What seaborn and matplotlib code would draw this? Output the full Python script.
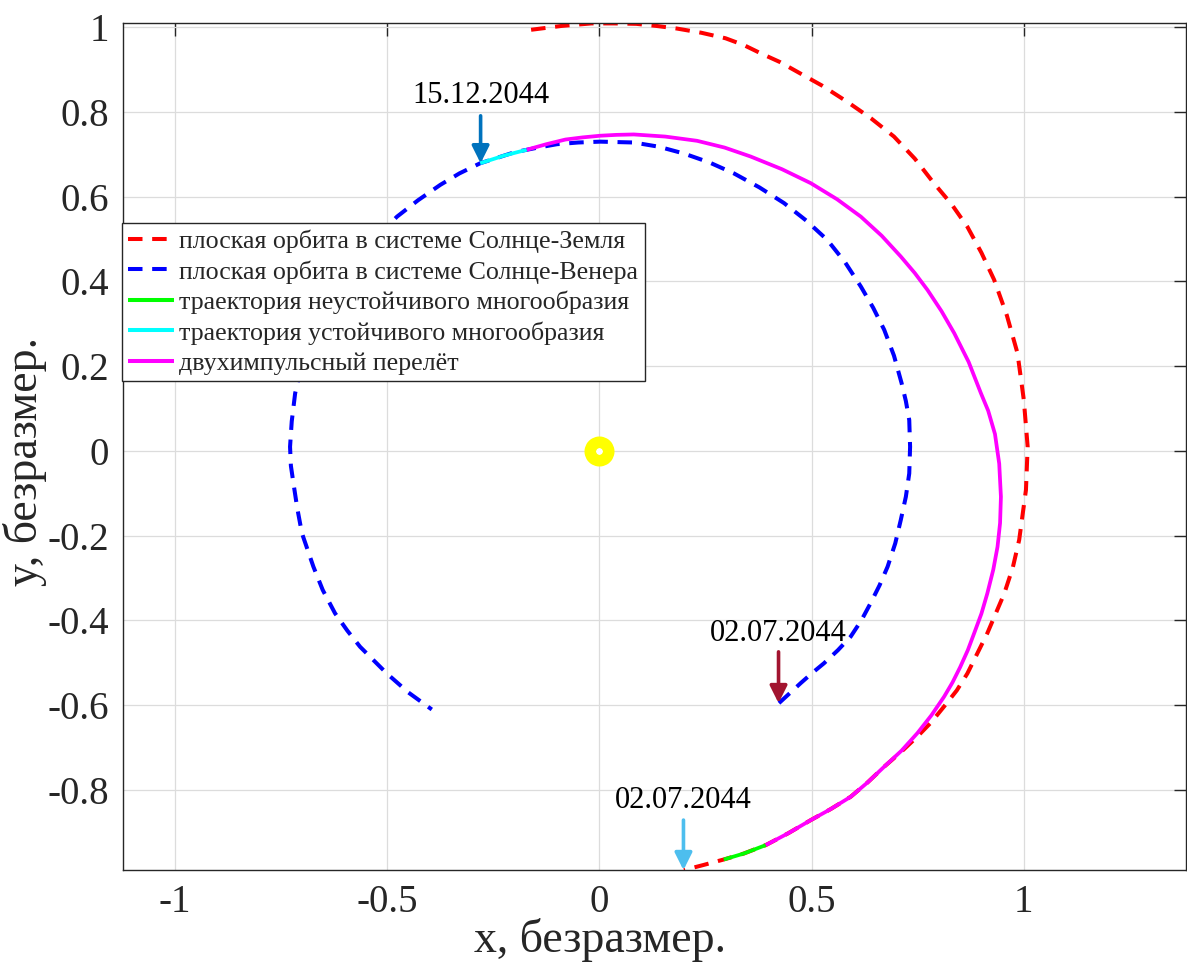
import numpy as np
import pandas as pd
import matplotlib
matplotlib.use("Agg")
import matplotlib.pyplot as plt
import seaborn as sns

# ---------------- data ----------------
earth_x = [-0.161, -0.090, -0.019, 0.035, 0.087, 0.135, 0.182, 0.240, 0.297, 0.340,
           0.381, 0.425, 0.466, 0.525, 0.584, 0.640, 0.694, 0.743, 0.788, 0.830,
           0.867, 0.900, 0.930, 0.960, 0.985, 1.000, 1.009, 1.005, 0.989, 0.974,
           0.954, 0.914, 0.867, 0.842, 0.812, 0.782, 0.749, 0.711, 0.671, 0.632,
           0.592, 0.545, 0.498, 0.445, 0.392, 0.340, 0.293, 0.245, 0.199]
earth_y = [0.994, 1.003, 1.009, 1.009, 1.008, 1.003, 0.997, 0.987, 0.974, 0.958,
           0.938, 0.918, 0.895, 0.862, 0.824, 0.785, 0.742, 0.690, 0.632, 0.582,
           0.529, 0.468, 0.404, 0.320, 0.231, 0.120, 0.010, -0.092, -0.210, -0.275,
           -0.336, -0.430, -0.525, -0.565, -0.603, -0.640, -0.674, -0.710, -0.745, -0.782,
           -0.816, -0.845, -0.871, -0.902, -0.930, -0.950, -0.964, -0.977, -0.989]

venus_x = [0.423, 0.448, 0.474, 0.500, 0.529, 0.562, 0.592, 0.617, 0.639, 0.660,
           0.679, 0.697, 0.710, 0.722, 0.730, 0.732, 0.730, 0.722, 0.712, 0.694,
           0.671, 0.645, 0.616, 0.579, 0.537, 0.487, 0.435, 0.377, 0.317, 0.259,
           0.199, 0.140, 0.081, 0.002, -0.050, -0.100, -0.150, -0.200, -0.281, -0.330,
           -0.375, -0.427, -0.477, -0.530, -0.580, -0.625, -0.660, -0.685, -0.705, -0.717,
           -0.725, -0.729, -0.727, -0.721, -0.712, -0.701, -0.674, -0.652, -0.623, -0.594,
           -0.564, -0.501, -0.450, -0.395]
venus_y = [-0.595, -0.572, -0.548, -0.525, -0.501, -0.470, -0.438, -0.400, -0.359, -0.317,
           -0.273, -0.218, -0.163, -0.108, -0.053, 0.010, 0.073, 0.118, 0.160, 0.225,
           0.286, 0.338, 0.388, 0.445, 0.498, 0.544, 0.585, 0.622, 0.655, 0.681,
           0.702, 0.718, 0.728, 0.730, 0.728, 0.724, 0.715, 0.705, 0.679, 0.655,
           0.628, 0.592, 0.553, 0.500, 0.440, 0.375, 0.310, 0.250, 0.190, 0.136,
           0.070, 0.010, -0.035, -0.076, -0.135, -0.194, -0.273, -0.328, -0.383, -0.424,
           -0.462, -0.525, -0.570, -0.610]

unstable_x = [0.293, 0.340, 0.392]
unstable_y = [-0.964, -0.950, -0.930]

stable_x = [-0.281, -0.225, -0.171]
stable_y = [0.679, 0.697, 0.711]

transfer_x = [-0.171, -0.125, -0.080, -0.040, 0.002, 0.040, 0.081, 0.155, 0.230, 0.295,
              0.356, 0.430, 0.498, 0.560, 0.616, 0.665, 0.710, 0.743, 0.773, 0.806,
              0.836, 0.870, 0.899, 0.916, 0.932, 0.942, 0.946, 0.944, 0.938, 0.928,
              0.914, 0.900, 0.883, 0.868, 0.850, 0.832, 0.812, 0.782, 0.749, 0.712,
              0.671, 0.632, 0.592, 0.545, 0.498, 0.445, 0.392]
transfer_y = [0.711, 0.724, 0.735, 0.740, 0.744, 0.746, 0.747, 0.742, 0.732, 0.716,
              0.695, 0.665, 0.632, 0.594, 0.553, 0.508, 0.459, 0.420, 0.380, 0.330,
              0.278, 0.210, 0.136, 0.095, 0.040, -0.030, -0.108, -0.170, -0.226, -0.280,
              -0.336, -0.384, -0.430, -0.470, -0.510, -0.546, -0.580, -0.624, -0.666, -0.707,
              -0.745, -0.782, -0.816, -0.845, -0.871, -0.902, -0.930]

sun_x = [0.0]
sun_y = [0.0]

labels = ["плоская орбита в системе Солнце-Земля",
          "плоская орбита в системе Солнце-Венера",
          "траектория неустойчивого многообразия",
          "траектория устойчивого многообразия",
          "двухимпульсный перелёт"]

date_labels = ["15.12.2044", "02.07.2044", "02.07.2044"]
date_x = [-0.280, 0.422, 0.198]          # x of arrow
date_tip_y = [0.679, -0.595, -0.989]     # arrow head
date_tail_y = [0.791, -0.474, -0.871]    # arrow tail
date_text_y = [0.840, -0.430, -0.824]    # text centre
date_colors = ["#0072BD", "#A2142F", "#4DBEEE"]

xticks = [-1, -0.5, 0, 0.5, 1]
xticklabels = ["-1", "-0.5", "0", "0.5", "1"]
yticks = [-0.8, -0.6, -0.4, -0.2, 0, 0.2, 0.4, 0.6, 0.8, 1]
yticklabels = ["-0.8", "-0.6", "-0.4", "-0.2", "0", "0.2", "0.4", "0.6", "0.8", "1"]

# ---------------- style ----------------
sns.set_style("white")
plt.rcParams["font.family"] = ["Liberation Serif", "DejaVu Serif"]
plt.rcParams["axes.unicode_minus"] = False

fig = plt.figure(figsize=(11.87, 9.68), dpi=100)
ax = fig.add_axes([123 / 1187, 98 / 968, 1063 / 1187, 847 / 968])

def draw(xs, ys, color, lw, dashed, label):
    df = pd.DataFrame({"x": xs, "y": ys})
    sns.lineplot(data=df, x="x", y="y", sort=False, estimator=None, ax=ax,
                 color=color, linewidth=lw, label=label)
    line = ax.lines[-1]
    if dashed:
        line.set_dashes((3.6, 2.4))
    line.set_solid_capstyle("butt")
    line.set_dash_capstyle("butt")
    line.set_solid_joinstyle("round")
    return line

draw(earth_x, earth_y, "#FF0000", 2.9, True, labels[0])
draw(venus_x, venus_y, "#0000FF", 2.9, True, labels[1])
draw(unstable_x, unstable_y, "#00FF00", 2.7, False, labels[2])
draw(stable_x, stable_y, "#00FFFF", 2.7, False, labels[3])
draw(transfer_x, transfer_y, "#FF00FF", 2.7, False, labels[4])

# Sun
sns.scatterplot(x=sun_x, y=sun_y, ax=ax, marker="o", s=13.3 ** 2,
                facecolor="white", edgecolor="#FFFF00", linewidth=8.3,
                legend=False, zorder=5)

# date arrows
for lab, xx, ty, tl, txy, c in zip(date_labels, date_x, date_tip_y, date_tail_y,
                                   date_text_y, date_colors):
    ax.annotate("", xy=(xx, ty), xytext=(xx, tl),
                arrowprops=dict(arrowstyle="-|>", color=c, lw=2.6,
                                mutation_scale=26, shrinkA=0, shrinkB=0),
                zorder=6)
    ax.text(xx, txy, lab, ha="center", va="center", fontsize=22, color="black")

ax.set_xlim(-1.1226, 1.3821)
ax.set_ylim(-0.9888, 1.0100)
ax.set_xticks(xticks)
ax.set_xticklabels(xticklabels)
ax.set_yticks(yticks)
ax.set_yticklabels(yticklabels)
ax.grid(True, color="#DCDCDC", linewidth=0.9)
ax.set_axisbelow(True)
ax.tick_params(axis="both", which="both", direction="in", length=9, width=1.0,
               top=True, right=True, labelsize=28, colors="#262626",
               labelcolor="#262626", pad=10)
for sp in ax.spines.values():
    sp.set_color("#262626")
    sp.set_linewidth(1.0)

ax.set_xlabel("x, безразмер.", fontsize=33, color="#262626")
ax.set_ylabel("y, безразмер.", fontsize=33, color="#262626")
ax.xaxis.set_label_coords((600 - 123) / 1063, -(918 - 870) / 847)
ax.yaxis.set_label_coords(-(123 - 47) / 1063, (870 - 462) / 847)

leg = ax.legend(loc="upper left", bbox_to_anchor=(-0.001, (870 - 223) / 847),
                borderaxespad=0, fontsize=18.7, frameon=True, fancybox=False,
                edgecolor="#262626", framealpha=1, handlelength=1.75,
                handletextpad=0.2, labelspacing=0.27, borderpad=0.25)
leg.get_frame().set_linewidth(1.0)
for h in leg.get_lines():
    h.set_linewidth(2.9)

fig.savefig("out.png", dpi=100)
